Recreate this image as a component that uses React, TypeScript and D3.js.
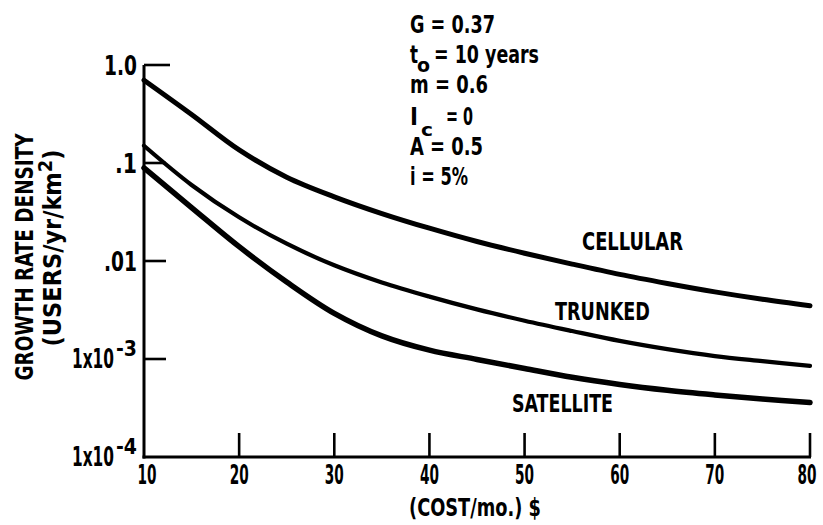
import React from 'react';
import * as d3 from 'd3';

// Monthly subscriber cost ($) at which each curve is sampled
const costs = [10, 15, 20, 25, 30, 35, 40, 45, 50, 55, 60, 65, 70, 75, 80];

// Growth rate density (users / yr / km^2) for each system type
const cellular = [0.7, 0.313, 0.136, 0.0716, 0.0452, 0.0305, 0.0216, 0.0158, 0.012, 0.0093, 0.0073, 0.0059, 0.00484, 0.00407, 0.0035];
const trunked = [0.15, 0.0597, 0.0279, 0.015, 0.00904, 0.00604, 0.00433, 0.00321, 0.00246, 0.00193, 0.00153, 0.00126, 0.00107, 0.00095, 0.00085];
const satellite = [0.089, 0.0351, 0.014, 0.0061, 0.00292, 0.00172, 0.00123, 0.00099, 0.0008, 0.00065, 0.00055, 0.00048, 0.00043, 0.00039, 0.00036];

const seriesNames = ['CELLULAR', 'TRUNKED', 'SATELLITE'];

const xTicks = [10, 20, 30, 40, 50, 60, 70, 80];
const yTicks = [1, 0.1, 0.01, 0.001, 0.0001];
const yTickLabels = ['1.0', '.1', '.01', '1x10', '1x10'];
const yTickExponents = ['', '', '', '-3', '-4'];

const W = 823;
const H = 525;
const FONT = "'DejaVu Sans Condensed', 'DejaVu Sans', sans-serif";

const x = d3.scaleLinear().domain([10, 80]).range([144, 810]);
const y = d3.scaleLog().domain([1e-4, 1]).range([457, 65]);

const line = d3
  .line<[number, number]>()
  .x((d) => x(d[0]))
  .y((d) => y(d[1]))
  .curve(d3.curveCatmullRom.alpha(0.5));

type TProps = {
  x: number;
  y: number;
  w?: number;
  size?: number;
  anchor?: 'start' | 'middle' | 'end';
  transform?: string;
  children: React.ReactNode;
};

function T({ x: tx, y: ty, w, size = 25, anchor = 'start', transform, children }: TProps) {
  return (
    <text
      x={tx}
      y={ty}
      fontSize={size}
      fontFamily={FONT}
      fontWeight="bold"
      fill="#000"
      textAnchor={anchor}
      transform={transform}
      textLength={w}
      lengthAdjust={w ? 'spacingAndGlyphs' : undefined}
    >
      {children}
    </text>
  );
}

export default function App() {
  const series = [cellular, trunked, satellite];
  const widths = [5, 4.2, 5.5];
  const axisX = x(10);
  const axisY = y(1e-4);

  return (
    <svg
      width={W}
      height={H}
      viewBox={`0 0 ${W} ${H}`}
      style={{ position: 'absolute', left: 0, top: 0, background: '#fff' }}
    >
      <rect x={0} y={0} width={W} height={H} fill="#fff" />

      {/* axes */}
      <line x1={axisX} y1={y(1)} x2={axisX} y2={axisY + 1.5} stroke="#000" strokeWidth={3} />
      <line x1={axisX - 1.5} y1={axisY} x2={x(80) + 1} y2={axisY} stroke="#000" strokeWidth={3} />

      {/* y ticks */}
      {yTicks.slice(0, 4).map((t, i) => (
        <line
          key={`yt${i}`}
          x1={axisX}
          x2={axisX + (i === 0 ? 26 : 22)}
          y1={y(t)}
          y2={y(t)}
          stroke="#000"
          strokeWidth={2.6}
        />
      ))}
      {yTicks.map((t, i) => (
        <g key={`yl${i}`}>
          {yTickExponents[i] ? (
            <>
              <T x={114} y={y(t) + 9} w={42} size={26} anchor="end">
                {yTickLabels[i]}
              </T>
              <T x={137} y={y(t) - 3} w={21} size={22} anchor="end">
                {yTickExponents[i]}
              </T>
            </>
          ) : (
            <T x={137} y={y(t) + 10} w={yTickLabels[i].length * 11} size={26} anchor="end">
              {yTickLabels[i]}
            </T>
          )}
        </g>
      ))}

      {/* x ticks */}
      {xTicks.slice(1).map((t) => (
        <line key={`xt${t}`} x1={x(t)} x2={x(t)} y1={axisY} y2={axisY - 24} stroke="#000" strokeWidth={2.6} />
      ))}
      {xTicks.map((t) => (
        <T key={`xl${t}`} x={x(t) + (t === 10 ? 3 : t === 80 ? -3 : 0)} y={484} w={19} size={26} anchor="middle">
          {String(t)}
        </T>
      ))}

      {/* axis titles */}
      <T x={475} y={516} w={132} size={25} anchor="middle">
        (COST/mo.) $
      </T>
      <T x={33} y={257} w={247} size={25} anchor="middle" transform="rotate(-90 33 257)">
        GROWTH RATE DENSITY
      </T>
      <text
        x={61}
        y={248}
        fontSize={24}
        fontFamily={FONT}
        fontWeight="bold"
        textAnchor="middle"
        transform="rotate(-90 61 248)"
        textLength={197}
        lengthAdjust="spacingAndGlyphs"
      >
        (USERS/yr/km
        <tspan dy={-9} fontSize={19}>
          2
        </tspan>
        <tspan dy={9}>)</tspan>
      </text>

      {/* curves */}
      {series.map((vals, i) => (
        <path
          key={seriesNames[i]}
          d={line(costs.map((c, j) => [c, vals[j]] as [number, number])) || ''}
          fill="none"
          stroke="#000"
          strokeWidth={widths[i]}
          strokeLinecap="round"
          strokeLinejoin="round"
        />
      ))}

      {/* curve labels */}
      <T x={582} y={250} w={101} size={25}>
        {seriesNames[0]}
      </T>
      <T x={555} y={320} w={95} size={25}>
        {seriesNames[1]}
      </T>
      <T x={512} y={412} w={101} size={25}>
        {seriesNames[2]}
      </T>

      {/* model parameters */}
      <T x={410} y={33} w={85} size={25}>
        G = 0.37
      </T>
      <T x={410} y={63} w={8} size={25}>
        t
      </T>
      <T x={417} y={72} w={13} size={19}>
        o
      </T>
      <T x={434} y={63} w={105} size={25}>
        = 10 years
      </T>
      <T x={410} y={93} w={78} size={25}>
        m = 0.6
      </T>
      <T x={410} y={125} w={8} size={25}>
        I
      </T>
      <T x={421} y={136} w={12} size={18}>
        c
      </T>
      <T x={446} y={125} w={27} size={25}>
        = 0
      </T>
      <T x={410} y={155} w={73} size={25}>
        A = 0.5
      </T>
      <T x={410} y={185} w={58} size={25}>
        i = 5%
      </T>
    </svg>
  );
}
